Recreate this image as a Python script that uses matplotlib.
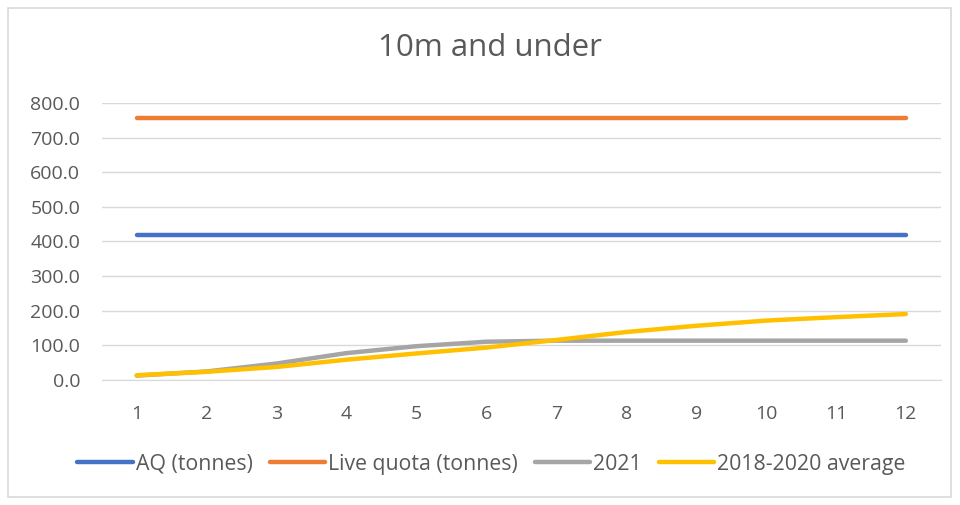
import matplotlib.pyplot as plt
from matplotlib.patches import Rectangle

# Monthly values (tonnes)
months = [1, 2, 3, 4, 5, 6, 7, 8, 9, 10, 11, 12]
aq = [419.0] * 12
live_quota = [757.0] * 12
y2021 = [12, 24, 47, 77, 97, 110, 113, 113, 113, 113, 113, 113]
avg_2018_2020 = [13, 23, 37, 58, 76, 93, 115, 138, 156, 171, 181, 190]

series_names = ['AQ (tonnes)', 'Live quota (tonnes)', '2021', '2018-2020 average']
colors = ['#4472C4', '#ED7D31', '#A5A5A5', '#FFC000']

plt.rcParams['font.family'] = ['Open Sans', 'DejaVu Sans']
text_color = '#595959'

fig = plt.figure(figsize=(9.6, 5.05), dpi=100)
ax = fig.add_axes([0.106, 0.248, 0.874, 0.548])

for vals, name, c in zip([aq, live_quota, y2021, avg_2018_2020], series_names, colors):
    ax.plot(months, vals, color=c, lw=3.2, label=name, solid_capstyle='round')

ax.set_xlim(0.5, 12.5)
ax.set_ylim(0, 800)
ax.set_yticks(range(0, 801, 100))
ax.set_yticklabels([f'{v:.1f}' for v in range(0, 801, 100)])
ax.set_xticks(months)
ax.grid(axis='y', color='#D9D9D9', lw=1)
ax.set_axisbelow(True)
for s in ['top', 'right', 'left']:
    ax.spines[s].set_visible(False)
ax.spines['bottom'].set_color('#D9D9D9')
ax.tick_params(length=0, labelsize=14, colors=text_color)
ax.tick_params(axis='y', pad=15.5)
ax.tick_params(axis='x', pad=18)

fig.text(0.51, 0.905, '10m and under', ha='center', va='center', fontsize=22.5, color=text_color)

leg = fig.legend(loc='center', bbox_to_anchor=(0.512, 0.081), ncol=4, frameon=False,
                 fontsize=15.3, handlelength=2.6, handletextpad=0.15, columnspacing=0.8)
for t in leg.get_texts():
    t.set_color(text_color)

# outer chart frame
fig.patches.append(Rectangle((0.008, 0.016), 0.983, 0.968, transform=fig.transFigure,
                             fill=False, edgecolor='#D9D9D9', lw=1.2))

fig.savefig('out.png', dpi=100)
